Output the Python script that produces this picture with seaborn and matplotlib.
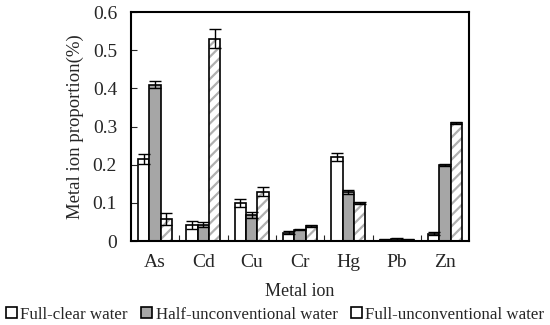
import pandas as pd
import seaborn as sns
import matplotlib.pyplot as plt
from matplotlib.patches import Rectangle

# --- Data ---
ions = ['As', 'Cd', 'Cu', 'Cr', 'Hg', 'Pb', 'Zn']
treatments = ['Full-clear water', 'Half-unconventional water', 'Full-unconventional water']
full_clear = [0.215, 0.043, 0.100, 0.022, 0.220, 0.004, 0.020]
half_uncon = [0.410, 0.043, 0.068, 0.030, 0.128, 0.005, 0.200]
full_uncon = [0.058, 0.530, 0.130, 0.040, 0.100, 0.004, 0.310]
full_clear_err = [0.012, 0.010, 0.010, 0.004, 0.010, 0.002, 0.003]
half_uncon_err = [0.010, 0.006, 0.008, 0.002, 0.005, 0.002, 0.002]
full_uncon_err = [0.015, 0.025, 0.012, 0.002, 0.003, 0.002, 0.003]

df = pd.DataFrame({
    'ion': ions * 3,
    'treatment': [t for t in treatments for _ in ions],
    'value': full_clear + half_uncon + full_uncon,
})
errs = [full_clear_err, half_uncon_err, full_uncon_err]

sns.set_style('white')
plt.rcParams['font.family'] = ['Liberation Serif', 'DejaVu Serif']
plt.rcParams['hatch.linewidth'] = 1.6

fig = plt.figure(figsize=(5.5, 3.25), dpi=100)
ax = fig.add_axes([0.238, 0.258, 0.615, 0.705])

sns.barplot(data=df, x='ion', y='value', hue='treatment', hue_order=treatments,
            palette=['white', '#a6a6a6', 'white'], width=0.7, gap=0,
            edgecolor='black', linewidth=1.2, errorbar=None, legend=False, ax=ax)

for i, (cont, err) in enumerate(zip(ax.containers, errs)):
    xs = [p.get_x() + p.get_width() / 2 for p in cont.patches]
    hs = [p.get_height() for p in cont.patches]
    if i == 2:
        # hatch lines take the edge colour, so draw the black outline on top
        for p in cont.patches:
            p.set_hatch('///')
            p.set_edgecolor('#b0b0b0')
            p.set_linewidth(0)
            ax.add_patch(Rectangle((p.get_x(), 0), p.get_width(), p.get_height(),
                                   fill=False, edgecolor='black', linewidth=1.2, zorder=3))
    ax.errorbar(xs, hs, yerr=err, fmt='none', ecolor='black',
                elinewidth=1, capsize=4, capthick=1, zorder=4)

ax.set_ylim(0, 0.6)
ax.set_xlim(-0.5, 6.5)
ax.set_yticks([0, 0.1, 0.2, 0.3, 0.4, 0.5, 0.6])
ax.set_yticklabels(['0', '0.1', '0.2', '0.3', '0.4', '0.5', '0.6'])
ax.set_xticks(range(7), minor=False)
ax.set_xticks([i + 0.5 for i in range(6)], minor=True)
ax.tick_params(axis='x', which='major', length=0, labelsize=14, pad=9)
ax.tick_params(axis='x', which='minor', direction='in', length=4, width=0.8, bottom=True)
ax.tick_params(axis='y', direction='in', length=4, width=0.8, labelsize=14, left=True, pad=10)
for s in ax.spines.values():
    s.set_color('black')
    s.set_linewidth(1.5)

ax.set_xlabel('Metal ion', fontsize=13, labelpad=9)
ax.set_ylabel('Metal ion proportion(%)', fontsize=13.5, labelpad=6)

handles = [Rectangle((0, 0), 1, 1, facecolor='white', edgecolor='black', linewidth=1.2),
           Rectangle((0, 0), 1, 1, facecolor='#a6a6a6', edgecolor='black', linewidth=1.2),
           Rectangle((0, 0), 1, 1, facecolor='white', edgecolor='black', linewidth=1.2)]
fig.legend(handles, treatments, loc='center', bbox_to_anchor=(0.5, 0.032),
           ncol=3, frameon=False, fontsize=12.2,
           handlelength=0.65, handleheight=0.65, handletextpad=0.2, columnspacing=0.8,
           borderaxespad=0, borderpad=0)

fig.savefig('out.png', dpi=100)
